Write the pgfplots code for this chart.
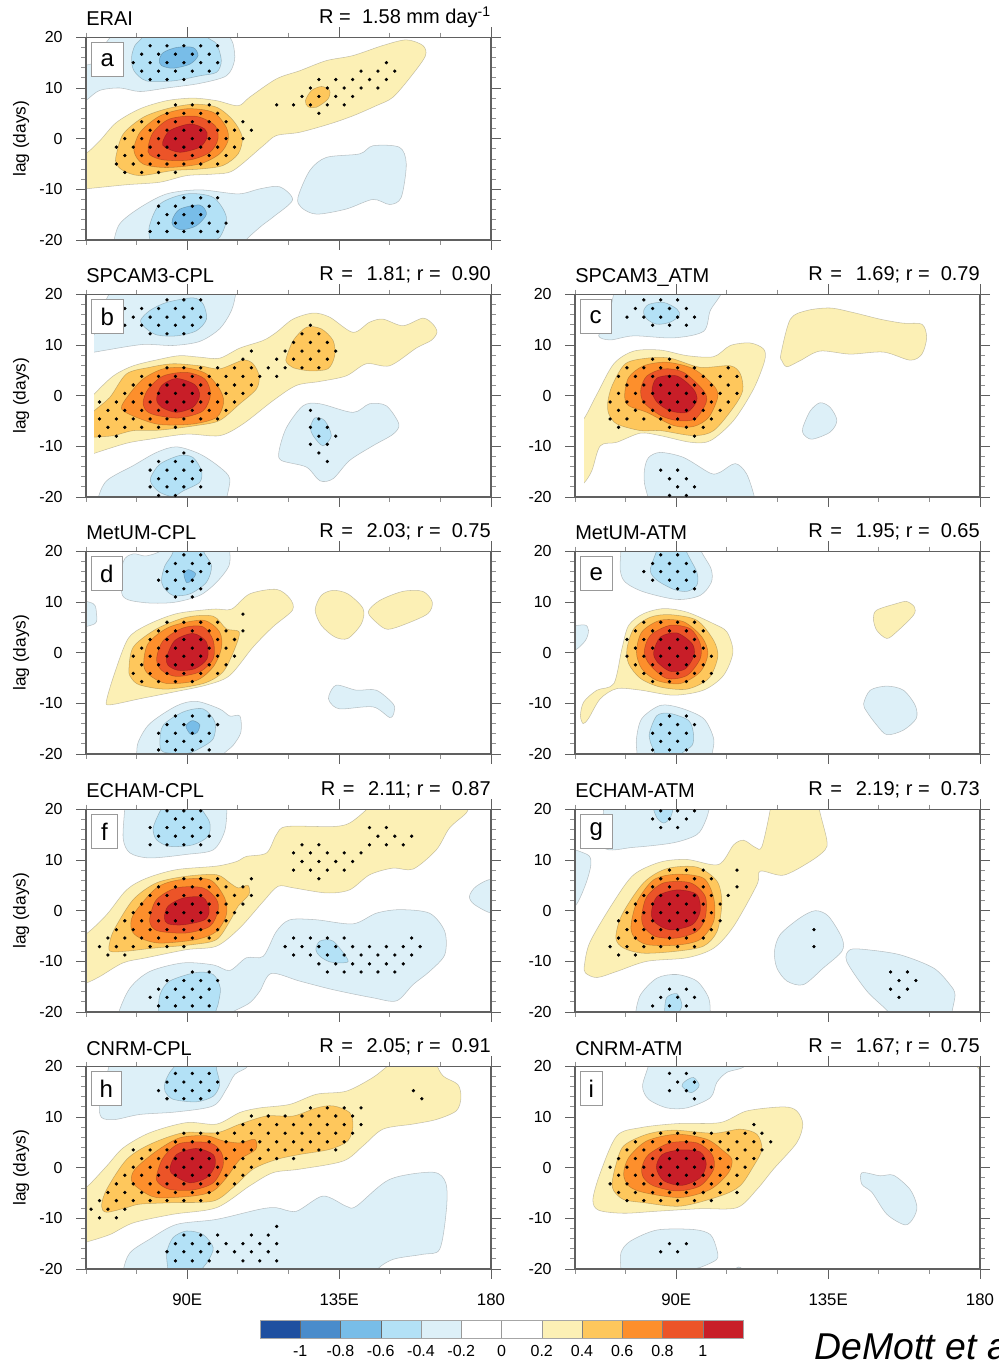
\documentclass[border=0pt]{standalone}
\usepackage{fontspec}
\setmainfont{Liberation Sans}
\usepackage{pgfplots}
\pgfplotsset{compat=1.18}
\definecolor{ba}{HTML}{DDF0F8}
\definecolor{bb}{HTML}{B3E1F6}
\definecolor{bc}{HTML}{78BDE8}
\definecolor{bd}{HTML}{4A8CCB}
\definecolor{be}{HTML}{1F50A0}
\definecolor{ya}{HTML}{FCF0B5}
\definecolor{yb}{HTML}{FEC75C}
\definecolor{yc}{HTML}{FD8F2C}
\definecolor{yd}{HTML}{EC5428}
\definecolor{ye}{HTML}{C81E28}
\definecolor{spine}{HTML}{606060}
\newcommand\blob[2]{\addplot[fill=#1,draw=black,draw opacity=.22,line width=.4pt,smooth cycle] coordinates {#2};}
\newcommand\stip[1]{\addplot[only marks,mark=*,mark size=1.05pt,black] coordinates {#1};}
\newcommand\strip[1]{\addplot[fill=white,draw=none] coordinates {(55,-25)(55,25)(#1,25)(#1,-25)} --cycle;}
\newcommand\titlefont{\fontsize{15}{16}\selectfont}
\newcommand\Req[1]{R\hspace{1.5pt} =\hspace{2pt}\ \ #1}
\newcommand\req[1]{r =\ \ #1}
\pgfplotsset{
 panel/.style={scale only axis,width=303.75pt,height=152pt,xmin=60,xmax=180,ymin=-20,ymax=20,
  xtick={90,135,180},minor xtick={60,75,105,120,150,165},xticklabels={},
  ytick={-20,-10,0,10,20},yticklabels={-20,-10,0,10,20},minor y tick num=4,
  tick align=outside,major tick length=7.5pt,minor tick length=3.5pt,
  every tick/.style={spine,line width=.7pt},every minor tick/.style={spine!70,line width=.6pt},
  axis line style={spine,line width=.8pt},axis on top,
  yticklabel style={font=\fontsize{12}{12}\selectfont,xshift=-6.5pt},
  xticklabel style={font=\fontsize{12.6}{13}\selectfont,yshift=-7.5pt}},
 deco/.style n args={5}{extra description/.code={
   \node[anchor=base west,inner sep=0pt,font=\titlefont] at (axis description cs:0,1) [yshift=8.5pt] {#1};
   \node[anchor=base east,inner sep=0pt,font=\titlefont] at (axis description cs:1,1) [yshift=10.5pt] {#2};
   \node[anchor=north west,draw=gray!80,line width=.6pt,fill=white,inner sep=0pt,minimum width=#4pt,minimum height=25.5pt,font=\fontsize{18}{18}\selectfont] at (axis description cs:0,1) [xshift=3.75pt,yshift=-3.75pt] {#3};
   #5}},
}
\newcommand\lagnode{\node[rotate=90,font=\fontsize{13}{13}\selectfont] at (axis description cs:-0.16,0.5) {lag (days)};}
\begin{document}
\begin{tikzpicture}
\path[use as bounding box] (0,0) rectangle (749.25pt,1022.25pt);

% ---------- a
\begin{axis}[panel,at={(64.5pt,842.25pt)},anchor=south west,deco={ERAI}{R =\ \ 1.58 mm day\textsuperscript{-1}}{a}{24}{\lagnode}]
\blob{ba}{(57,6)(60,7.5)(64,9.5)(70,10)(76,9.3)(84,10)(93.7,10.9)(101.6,12.4)(104,15.4)(103.6,18.7)(102,21)(102,24)(68,24)(68,21)(66,19)(61.4,14.7)(57,14.4)}
\blob{bb}{(73.5,16)(74.2,13.4)(77.9,11.4)(85.8,11.4)(93.7,12.4)(98.7,13.1)(100.1,15.4)(98.7,18.7)(95.7,20.3)(95.7,24)(76.9,24)(76.9,20.3)(74.5,18.4)}
\blob{bc}{(81.7,15.5)(82.9,17)(86.8,18)(91.7,18)(93.2,16.4)(90.8,14.7)(85.8,13.9)(82.4,14.4)}
\blob{ya}{(57,-2.9)(60,-2.9)(64.1,-.4)(69,3.2)(76,5.9)(83.9,7.5)(91.7,8)(98.7,7.5)(105.1,6.5)(108.5,8.2)(116.4,11.8)(123.3,13.4)(131.2,15.4)(139.1,16.4)(148,18.4)(154.9,19.5)(159.8,18.4)(160.6,16.4)(156.9,12.8)(151,8.2)(146,6.5)(139.1,4.5)(132.2,2.9)(123.3,1.25)(116.4,.6)(112.5,-1.4)(103.6,-6.3)(97.7,-7)(89.8,-7.3)(81.9,-8.6)(72,-9.1)(60,-9.9)(57,-10)}
\blob{yb}{(68.9,-3.4)(71,.9)(76.9,4.2)(83.9,5.9)(91.7,6.8)(98.7,6.2)(103.6,3.6)(106.3,.3)(105.1,-3)(100.6,-5.3)(93.7,-6)(85.8,-6.3)(76,-7.3)(71,-6.3)(69,-5)}
\blob{yc}{(74.2,-2.4)(76,1.25)(81.9,4.5)(89.8,5.9)(97.7,5.2)(101.6,2.2)(102.1,-.4)(99.6,-3)(93.7,-5)(83.9,-5.7)(76.9,-5)}
\blob{yd}{(78.4,-1.7)(79.9,1.25)(84.8,3.9)(92.7,4.4)(98.2,2.6)(99.1,-.1)(96.7,-2.7)(90.8,-4.2)(82.9,-4.2)(78.9,-3.2)}
\blob{ye}{(82.7,-.7)(84.8,1.6)(90.8,2.9)(95.2,1.9)(95.9,.3)(93.7,-1.7)(87.8,-2.7)(83.4,-1.7)}
\blob{yb}{(125,7.5)(126.8,9.5)(129.8,10.3)(132.2,9.5)(131.7,7.8)(128.3,6.2)(125.8,6.3)}
\blob{ba}{(68.1,-20.8)(70,-16.8)(76,-13.6)(83.9,-10.9)(93.7,-10.1)(105.1,-10.9)(111.5,-9.9)(117.4,-9.5)(121.2,-12.1)(115.4,-15.5)(111.5,-17.5)(106.5,-20.8)(106.5,-24)(68.1,-24)}
\blob{bb}{(79.1,-20.8)(78.7,-17.5)(81.9,-12.9)(89.8,-10.9)(97.7,-11.6)(101.6,-15.5)(99.6,-19.5)(95.7,-20.8)(95.7,-24)(79.1,-24)}
\blob{bc}{(85.6,-15.9)(87.8,-13.9)(93.7,-13.1)(95.7,-14.9)(92.7,-17.2)(88.3,-18)(85.8,-17.2)}
\blob{ba}{(122.8,-11.6)(126.3,-6.3)(131.2,-3.7)(141.1,-3)(145,-1.4)(152.9,-1.7)(154.9,-5)(153.4,-11.6)(150,-13)(145,-12)(137.1,-13.9)(128.3,-14.9)(123.8,-13.6)}
\stip{(79,18.33)(84,18.33)(89,18.33)(94,18.33)(99,18.33)(76.5,16.67)(81.5,16.67)(86.5,16.67)(91.5,16.67)(96.5,16.67)(74,15)(79,15)(84,15)(89,15)(94,15)(99,15)(149,15)(76.5,13.33)(81.5,13.33)(86.5,13.33)(91.5,13.33)(96.5,13.33)(141.5,13.33)(146.5,13.33)(151.5,13.33)(79,11.67)(84,11.67)(89,11.67)(129,11.67)(134,11.67)(139,11.67)(144,11.67)(149,11.67)(126.5,10)(131.5,10)(136.5,10)(141.5,10)(146.5,10)(124,8.33)(129,8.33)(134,8.33)(139,8.33)(86.5,6.67)(91.5,6.67)(96.5,6.67)(116.5,6.67)(121.5,6.67)(126.5,6.67)(131.5,6.67)(136.5,6.67)(84,5)(89,5)(94,5)(99,5)(129,5)(76.5,3.33)(81.5,3.33)(86.5,3.33)(91.5,3.33)(96.5,3.33)(101.5,3.33)(106.5,3.33)(74,1.67)(79,1.67)(84,1.67)(89,1.67)(94,1.67)(99,1.67)(104,1.67)(109,1.67)(71.5,0)(76.5,0)(81.5,0)(86.5,0)(91.5,0)(96.5,0)(101.5,0)(106.5,0)(69,-1.67)(74,-1.67)(79,-1.67)(84,-1.67)(89,-1.67)(94,-1.67)(99,-1.67)(104,-1.67)(71.5,-3.33)(76.5,-3.33)(81.5,-3.33)(86.5,-3.33)(91.5,-3.33)(96.5,-3.33)(101.5,-3.33)(69,-5)(74,-5)(79,-5)(84,-5)(89,-5)(94,-5)(99,-5)(71.5,-6.67)(76.5,-6.67)(81.5,-6.67)(86.5,-6.67)(89,-11.67)(94,-11.67)(99,-11.67)(81.5,-13.33)(86.5,-13.33)(91.5,-13.33)(96.5,-13.33)(84,-15)(89,-15)(94,-15)(81.5,-16.67)(86.5,-16.67)(91.5,-16.67)(96.5,-16.67)(101.5,-16.67)(79,-18.33)(84,-18.33)(89,-18.33)(94,-18.33)(99,-18.33)}
\end{axis}

% ---------- b
\begin{axis}[panel,at={(64.5pt,649.5pt)},anchor=south west,deco={SPCAM3-CPL}{\Req{1.81}; \req{0.90}}{b}{24}{\lagnode}]
\blob{ba}{(58,8.3)(62.6,8.6)(66.1,9)(76.9,10.1)(85.8,9.9)(93.7,10.7)(99.6,13.2)(103.1,16.8)(104.4,20.4)(104.4,24)(67,24)(67,20.4)(63.1,15.5)(62.4,12)(58,12)}
\blob{bb}{(76.2,14.9)(78.9,16.8)(83.9,18.4)(91.7,19.3)(94.7,18.1)(95.7,15.1)(92.7,12.8)(86.8,11.8)(80.9,12)(77.4,13.5)}
\blob{ya}{(58,-3)(62.4,.3)(68.1,3.9)(74,5.9)(81.9,7.2)(87.8,7.9)(93.7,7.6)(99.6,7.4)(105.6,9.4)(112.5,10.9)(116.4,12.5)(121.3,15.1)(127.3,16.3)(132.2,15.5)(139.1,12.5)(144,14.5)(148,15.1)(153.9,13.8)(159.8,15.3)(162.8,14.1)(164,12.5)(162.3,10.9)(157.9,9.4)(150,5.9)(143.1,6.3)(137.1,3.9)(129.3,2.8)(122.3,2)(115.4,-1)(106.5,-5.6)(99.6,-7.9)(89.8,-7.6)(78.9,-8.6)(72,-9.4)(62.4,-11.4)(58,-12.5)}
\blob{yb}{(58,-6)(62.4,-3)(67.1,-.3)(72,4.3)(78.9,5.6)(85.8,6.3)(93.7,5.9)(99.6,5.3)(106.5,7)(109.5,6.3)(111.3,3.9)(110.5,1.3)(105.6,-1.6)(99.6,-4.9)(92.7,-5.9)(81.9,-6.8)(74,-6.9)(68.1,-7.9)(62.4,-8.2)(58,-8.5)}
\blob{yc}{(70.5,-2.6)(72.5,0)(76.9,3.3)(82.9,5.3)(89.8,5.5)(95.7,4.3)(99.6,1.3)(100.8,-1.3)(98.7,-4.3)(91.7,-5.6)(81.9,-5.7)(75,-4.3)}
\blob{yd}{(76.9,-1.3)(78.4,1.3)(82.9,3.9)(89.8,4.6)(95.2,3.3)(96.9,.3)(94.7,-3)(87.8,-4.4)(80.9,-3.9)(77.9,-3)}
\blob{ye}{(80.9,-.7)(82.4,2)(86.8,3.4)(92.2,2.2)(93.7,0)(91.7,-2.3)(86.8,-3.3)(82.4,-2.3)}
\blob{yb}{(119.4,7.6)(121.4,10.9)(125.3,13.5)(129.7,13.2)(133.2,10.9)(133.7,7.9)(131.7,5.3)(126.3,4.9)(121.4,5.5)(119.4,6.6)}
\blob{ba}{(63.4,-20.7)(66.1,-16.8)(74,-13.8)(80.9,-11.2)(86.8,-10.1)(93.7,-11.5)(99.6,-14.1)(102.6,-16.4)(101.6,-20.7)(101.6,-24)(63.4,-24)}
\blob{bb}{(79.2,-16.1)(81.9,-13.5)(87.8,-11.8)(91.7,-12.2)(94.2,-14.8)(93.7,-17.1)(88.8,-18.8)(85.8,-19.9)(81.9,-19.1)(79.4,-17.4)}
\blob{ba}{(117.2,-10.9)(119.4,-6.3)(124.3,-2)(129.3,-1.6)(139.1,-3.3)(144,-1.6)(149,-2)(152.7,-5.6)(151,-7.6)(145,-9.9)(138.1,-12.8)(133.2,-16.4)(129.3,-16.8)(125.3,-14.1)(117.9,-12.8)}
\blob{bb}{(126.5,-6.3)(127.8,-4.4)(130.7,-4.9)(132.7,-7.9)(130.2,-9.9)(127.3,-7.9)}
\strip{62.4}
\stip{(84,18.9)(89,18.9)(94,18.9)(71.5,17.2)(76.5,17.2)(81.5,17.2)(86.5,17.2)(91.5,17.2)(74,15.5)(79,15.5)(84,15.5)(89,15.5)(94,15.5)(71.5,13.9)(76.5,13.9)(81.5,13.9)(86.5,13.9)(91.5,13.9)(126.5,13.9)(79,12.2)(84,12.2)(89,12.2)(124,12.2)(129,12.2)(121.5,10.5)(126.5,10.5)(131.5,10.5)(109,8.8)(119,8.8)(124,8.8)(129,8.8)(134,8.8)(106.5,7.2)(116.5,7.2)(121.5,7.2)(126.5,7.2)(131.5,7.2)(84,5.5)(89,5.5)(94,5.5)(99,5.5)(104,5.5)(109,5.5)(114,5.5)(119,5.5)(124,5.5)(129,5.5)(76.5,3.8)(81.5,3.8)(86.5,3.8)(91.5,3.8)(96.5,3.8)(101.5,3.8)(106.5,3.8)(111.5,3.8)(116.5,3.8)(74,2.1)(79,2.1)(84,2.1)(89,2.1)(94,2.1)(99,2.1)(104,2.1)(109,2.1)(71.5,.45)(76.5,.45)(81.5,.45)(86.5,.45)(91.5,.45)(96.5,.45)(101.5,.45)(106.5,.45)(64,-1.25)(69,-1.25)(74,-1.25)(79,-1.25)(84,-1.25)(89,-1.25)(94,-1.25)(99,-1.25)(104,-1.25)(66.5,-2.9)(71.5,-2.9)(76.5,-2.9)(81.5,-2.9)(86.5,-2.9)(91.5,-2.9)(96.5,-2.9)(101.5,-2.9)(126.5,-2.9)(64,-4.6)(69,-4.6)(74,-4.6)(79,-4.6)(84,-4.6)(89,-4.6)(94,-4.6)(99,-4.6)(129,-4.6)(66.5,-6.25)(71.5,-6.25)(76.5,-6.25)(81.5,-6.25)(86.5,-6.25)(126.5,-6.25)(131.5,-6.25)(64,-8)(69,-8)(129,-8)(134,-8)(126.5,-9.6)(131.5,-9.6)(89,-11.3)(129,-11.3)(81.5,-13)(86.5,-13)(91.5,-13)(131.5,-13)(79,-14.7)(84,-14.7)(89,-14.7)(94,-14.7)(81.5,-16.4)(86.5,-16.4)(91.5,-16.4)(79,-18)(84,-18)(89,-18)(94,-18)(81.5,-19.7)(86.5,-19.7)}
\end{axis}

% ---------- c
\begin{axis}[panel,at={(431.25pt,649.5pt)},anchor=south west,deco={SPCAM3\_ATM}{\Req{1.69}; \req{0.79}}{c}{23}{}]
\blob{ba}{(67,11.8)(70.5,11)(77.4,11.8)(89.2,11.4)(98.1,12.7)(100.1,16.8)(103.5,20.4)(103.5,24)(71.5,24)(71.5,20.4)(69.5,14.8)}
\blob{bb}{(80.3,16.6)(81.8,18)(86.3,18.4)(90.2,17.1)(90.9,15.8)(88.2,14.5)(84.3,14.1)(81.3,15.1)}
\blob{ya}{(58,-8)(62.6,-4.6)(66.5,.3)(71.5,6.3)(77.4,8.8)(85.3,9)(93.2,7.9)(101.1,7.7)(106,9.9)(111.9,10.4)(115.9,9.2)(116.2,6.9)(112.9,1.3)(107,-4.9)(100.1,-8.9)(94.2,-9.2)(85.3,-7.9)(79.4,-7.4)(72.4,-9.2)(67.5,-9.9)(65,-14.8)(62.6,-17.3)(58,-20)}
\blob{yb}{(69.7,-1.3)(71,2)(74.9,6.3)(81.3,7.4)(88.2,7.4)(97.1,5.6)(106,5.9)(109,4.3)(109.7,1)(107,-2.3)(101.1,-6.9)(95.1,-7.9)(85.3,-6.9)(79.4,-6.9)(72.4,-5.6)(70,-3.6)}
\blob{yc}{(74.7,0)(75.9,3.6)(80.3,5.9)(87.2,6.6)(95.1,5.3)(101.1,2)(102.3,-.3)(99.6,-4.3)(95.1,-6.1)(89.2,-5.9)(81.3,-3.3)(75.9,-2)}
\blob{yd}{(79.5,1.3)(81.3,3.9)(86.3,5.3)(92.2,4.6)(98.1,1)(98.9,-1.3)(95.6,-4.6)(90.2,-4.9)(85.3,-3.9)(80.3,-1.3)}
\blob{ye}{(82.8,1)(84.3,3.5)(90.2,3.9)(95.1,1.3)(96.1,-1)(93.2,-3.3)(88.2,-3)(84.3,-1.3)}
\blob{ya}{(121,8.2)(123.8,15.1)(128.7,16.8)(135.6,17.3)(142.5,16.4)(150.4,15.1)(157.3,14.3)(162.8,14.1)(164.2,11.5)(162.8,8.2)(159.3,7)(151.4,8.6)(141.5,8.2)(132.6,8.8)(126.7,6.9)(122.8,5.7)(121.3,6.9)}
\blob{ba}{(127.5,-6.3)(129.7,-3)(132.6,-1.4)(135.6,-2.3)(137.6,-4.9)(135.6,-7.2)(130.2,-8.6)(127.7,-7.6)}
\blob{ba}{(80.6,-14.5)(81.8,-12.2)(85.3,-11.2)(92.2,-12.2)(100.1,-15.3)(103,-15.1)(107.5,-13.4)(110.9,-15.5)(113.4,-20.7)(113.4,-24)(81.8,-24)(81.8,-20.7)(80.6,-17.4)}
\strip{62.6}
\stip{(80.4,18.9)(85.4,18.9)(90.4,18.9)(77.9,17.2)(83,17.2)(88,17.2)(93,17.2)(75.4,15.5)(80.4,15.5)(85.4,15.5)(90.4,15.5)(95.4,15.5)(83,13.9)(88,13.9)(93,13.9)(83,7.2)(88,7.2)(75.4,5.5)(80.4,5.5)(85.4,5.5)(90.4,5.5)(95.4,5.5)(105.4,5.5)(72.9,3.8)(77.9,3.8)(83,3.8)(88,3.8)(93,3.8)(98,3.8)(103,3.8)(108,3.8)(75.4,2.1)(80.4,2.1)(85.4,2.1)(90.4,2.1)(95.4,2.1)(100.4,2.1)(105.4,2.1)(72.9,.45)(77.9,.45)(83,.45)(88,.45)(93,.45)(98,.45)(103,.45)(108,.45)(70.4,-1.25)(75.4,-1.25)(80.4,-1.25)(85.4,-1.25)(90.4,-1.25)(95.4,-1.25)(100.4,-1.25)(105.4,-1.25)(72.9,-2.9)(77.9,-2.9)(83,-2.9)(88,-2.9)(93,-2.9)(98,-2.9)(103,-2.9)(70.4,-4.6)(75.4,-4.6)(80.4,-4.6)(85.4,-4.6)(90.4,-4.6)(95.4,-4.6)(100.4,-4.6)(72.9,-6.25)(88,-6.25)(93,-6.25)(98,-6.25)(95.4,-8)(85.4,-14.7)(90.4,-14.7)(88,-16.4)(93,-16.4)(90.4,-18)(95.4,-18)(88,-19.7)(93,-19.7)}
\end{axis}

% ---------- d
\begin{axis}[panel,at={(64.5pt,456.75pt)},anchor=south west,deco={MetUM-CPL}{\Req{2.03}; \req{0.75}}{d}{23}{\lagnode}]
\blob{ba}{(56,10.1)(62.1,9.7)(63.1,7.7)(62.6,5.7)(56,5.1)}
\blob{ba}{(70.8,11.3)(71,17.9)(74,19.5)(77.9,19.1)(82.9,20.5)(82.9,24)(102.6,24)(102.6,20.5)(102.4,17.2)(98.7,13.9)(93.7,11.3)(85.8,9.9)(76.9,9.9)}
\blob{bb}{(82.4,14.6)(83.4,17.2)(85.8,19.9)(85.8,24)(94.7,24)(94.7,20.2)(97.2,17.2)(95.7,13.9)(90.8,11.6)(85.8,11.3)(82.9,13)}
\blob{bc}{(89,15.6)(90.3,16.4)(92.5,15.6)(91.3,14.3)(89.8,13.8)}
\blob{ya}{(66.1,-9.4)(68.6,-3.8)(72.5,2.8)(77.9,5.4)(86.8,7.7)(97.7,8.6)(103.1,8.6)(108.5,11.6)(116.4,12.5)(120.4,10.7)(121.2,8.4)(115.4,5.1)(109.5,1.1)(102.6,-4.5)(95.7,-6.4)(85.8,-7.8)(76,-9.1)(67.1,-10.3)}
\blob{yb}{(72.7,-3.5)(74,1.1)(80.9,4.7)(89.8,7)(97.7,7.2)(101.6,4.7)(105.4,4.1)(104.1,.8)(100.6,-3.8)(94.7,-6.1)(83.9,-7.2)(76,-6.4)(73.5,-5.1)}
\blob{yc}{(77.1,-2.5)(78.4,1.8)(84.8,5.1)(94.7,6.4)(99.6,4.1)(100.1,.8)(97.7,-2.8)(92.7,-5.5)(83.9,-6.1)(78.9,-4.5)}
\blob{yd}{(80.9,-1.2)(82.9,2.4)(88.8,4.9)(94.7,5.1)(97.7,2.4)(97.7,-1.2)(93.7,-3.8)(86.8,-4.7)(82.4,-3.5)}
\blob{ye}{(83.9,-.9)(86.3,2.4)(91.7,3.8)(95.7,2.1)(95.9,-1.2)(92.2,-3.2)(87.3,-3.5)(84.3,-2.5)}
\blob{ya}{(127.9,8.4)(129.7,11.3)(133.2,12.3)(137.6,11.6)(142.1,8.7)(141.6,5.7)(137.6,2.8)(133.7,3.1)(129.7,5.4)}
\blob{ya}{(143.6,8)(147,10.3)(153.9,12.1)(159.8,12.1)(162.6,10)(161.3,7.7)(154.9,5.7)(149.5,4.6)(146.5,5.7)}
\blob{ba}{(75,-20.3)(75.5,-17.6)(78.9,-14)(86.8,-10.5)(92.7,-9.6)(99.6,-11.1)(102.6,-12.5)(105.6,-12.5)(105.9,-15.7)(103.6,-18.3)(100.6,-20.3)(100.6,-24)(75,-24)}
\blob{bb}{(81.9,-17.6)(82.9,-14.3)(88.8,-11.7)(94.7,-11.1)(98.2,-13.7)(97.7,-17)(93.7,-18.9)(89.8,-19.9)(82.9,-19.6)}
\blob{bc}{(89.6,-14.5)(91.5,-13.4)(93.7,-14.2)(92.9,-15.8)(91,-16.1)}
\blob{ba}{(132,-8.4)(134.2,-6.4)(140.1,-7.4)(146,-7.4)(151,-10.1)(151.3,-11.7)(150,-12.8)(145,-10.7)(135.2,-11.1)(132.2,-9.7)}
\stip{(89,19.3)(94,19.3)(86.5,17.6)(91.5,17.6)(96.5,17.6)(84,16)(89,16)(94,16)(81.5,14.3)(86.5,14.3)(91.5,14.3)(84,12.6)(89,12.6)(94,12.6)(86.5,11)(91.5,11)(106.5,7.6)(84,6)(89,6)(94,6)(99,6)(81.5,4.3)(86.5,4.3)(91.5,4.3)(96.5,4.3)(101.5,4.3)(106.5,4.3)(79,2.6)(84,2.6)(89,2.6)(94,2.6)(99,2.6)(104,2.6)(76.5,.9)(81.5,.9)(86.5,.9)(91.5,.9)(96.5,.9)(101.5,.9)(74,-.7)(79,-.7)(84,-.7)(89,-.7)(94,-.7)(99,-.7)(104,-.7)(76.5,-2.4)(81.5,-2.4)(86.5,-2.4)(91.5,-2.4)(96.5,-2.4)(101.5,-2.4)(74,-4.1)(79,-4.1)(84,-4.1)(89,-4.1)(94,-4.1)(99,-4.1)(76.5,-5.7)(81.5,-5.7)(86.5,-5.7)(91.5,-5.7)(86.5,-12.5)(91.5,-12.5)(96.5,-12.5)(84,-14.2)(89,-14.2)(99,-14.2)(81.5,-15.9)(86.5,-15.9)(91.5,-15.9)(96.5,-15.9)(84,-17.5)(89,-17.5)(94,-17.5)(81.5,-19.2)(86.5,-19.2)(91.5,-19.2)(96.5,-19.2)}
\end{axis}

% ---------- e
\begin{axis}[panel,at={(431.25pt,456.75pt)},anchor=south west,deco={MetUM-ATM}{\Req{1.95}; \req{0.65}}{e}{24}{}]
\blob{ba}{(73.6,20.5)(73.4,16.3)(74.9,13.9)(80.3,12)(90.2,10.5)(97.1,11.3)(100.4,13.9)(100.3,16.6)(97.1,20.5)(97.1,24)(73.6,24)}
\blob{bb}{(82.3,16.3)(84.3,20.5)(84.3,24)(92.7,24)(92.7,20.5)(96.1,15.9)(96.1,13.3)(93.2,12.1)(89.2,12.5)(84.3,14.3)}
\blob{ba}{(56,4.4)(62.6,5.5)(64,4.4)(63.1,2.4)(60,.5)(56,.5)}
\blob{ya}{(61.6,-12.4)(62.6,-9.7)(66.5,-7.4)(71.5,-6.1)(73.9,.8)(75.9,5.4)(80.3,7.7)(86.3,8.7)(93.2,8)(101.1,5.7)(105,4.1)(106.8,.1)(104,-4.5)(98.1,-7.4)(89.2,-8.4)(79.4,-7.4)(72.4,-7.1)(67.5,-9.1)(64,-13)(62.4,-14)}
\blob{yb}{(75.4,.8)(77.4,4.7)(82.3,7)(88.2,7.5)(96.1,6.4)(101.1,2.4)(102.3,-.9)(99.6,-5.1)(93.2,-7.2)(85.3,-6.8)(79.4,-5.1)(75.9,-2.2)}
\blob{yc}{(78.2,.1)(79.8,4.1)(85.3,6.4)(92.2,6.1)(97.6,3.1)(99.4,-.2)(97.1,-3.8)(91.2,-6.1)(84.3,-5.5)(79.8,-3.2)}
\blob{yd}{(80.5,.1)(82.3,3.4)(88.2,5.4)(94.2,4.7)(97.1,1.8)(97.1,-1.2)(93.2,-4.5)(87.2,-5.1)(82.3,-2.5)}
\blob{ye}{(83.3,.1)(85.3,3.1)(90.2,3.9)(94.7,1.8)(95.3,-.5)(92.7,-3.2)(88.2,-3.7)(84.3,-1.8)}
\blob{ya}{(148.4,6.7)(149.4,8.4)(155.3,9.7)(158.3,10.1)(160.6,9)(160.3,7.4)(155.3,4.1)(152.4,2.8)(149.4,4.4)}
\blob{ba}{(145.5,-10.1)(147.5,-7.4)(152.4,-6.6)(157.3,-7.4)(160.8,-10.4)(161.1,-13)(157.3,-15.3)(152.4,-16.2)(149.4,-14.3)(146.5,-11.7)}
\blob{ba}{(78.2,-17)(79.8,-13)(85.3,-10.4)(91.2,-10.9)(98.1,-13)(101.1,-17)(100.6,-20.3)(100.6,-24)(78.4,-24)(78.4,-20.3)}
\blob{bb}{(82.1,-15.7)(84.3,-12.4)(88.2,-12)(93.7,-13.4)(95.1,-16)(94.7,-18.3)(91.2,-20.3)(91.2,-24)(83.8,-24)(83.8,-20.3)(82.3,-17.6)}
\stip{(85.4,19.3)(90.4,19.3)(83,17.6)(88,17.6)(93,17.6)(80.4,16)(85.4,16)(90.4,16)(95.4,16)(83,14.3)(88,14.3)(93,14.3)(90.4,12.6)(95.4,12.6)(80.4,6)(85.4,6)(90.4,6)(95.4,6)(77.9,4.3)(83,4.3)(88,4.3)(93,4.3)(98,4.3)(75.4,2.6)(80.4,2.6)(85.4,2.6)(90.4,2.6)(95.4,2.6)(77.9,.9)(83,.9)(88,.9)(93,.9)(98,.9)(75.4,-.7)(80.4,-.7)(85.4,-.7)(90.4,-.7)(95.4,-.7)(100.4,-.7)(77.9,-2.4)(83,-2.4)(88,-2.4)(93,-2.4)(98,-2.4)(80.4,-4.1)(85.4,-4.1)(90.4,-4.1)(95.4,-4.1)(100.4,-4.1)(83,-5.7)(88,-5.7)(93,-5.7)(98,-5.7)(88,-12.5)(93,-12.5)(85.4,-14.2)(90.4,-14.2)(95.4,-14.2)(83,-15.9)(88,-15.9)(93,-15.9)(85.4,-17.5)(90.4,-17.5)(83,-19.2)(88,-19.2)(93,-19.2)}
\end{axis}

% ---------- f
\begin{axis}[panel,at={(64.5pt,263.25pt)},anchor=south west,deco={ECHAM-CPL}{\Req{2.11}; \req{0.87}}{f}{19.5}{\lagnode}]
\blob{ba}{(71.5,20.6)(71,14.3)(73,11.4)(78.9,10.4)(89.8,11.1)(97.7,12)(101.1,15.7)(101.8,20.6)(101.8,24)(71.5,24)}
\blob{bb}{(79.9,16.3)(81.9,19.6)(82.9,20.6)(82.9,24)(93.7,24)(93.7,20.6)(94.7,19.6)(96.7,17.3)(96.2,14.7)(91.7,13)(84.8,12.7)(80.9,14)}
\blob{ya}{(57,-4.6)(60,-4.6)(66.1,-.8)(72,4.1)(77.9,6.4)(86.8,8.1)(98.7,8.8)(104.6,9.7)(107.5,10.7)(113.5,11.4)(116.4,15)(119.4,16.6)(133.2,16.6)(138.1,17.3)(143,19.9)(143.6,20.9)(143.6,24)(173.2,24)(173.2,20.9)(172.7,19.3)(167.7,16.3)(163.8,12)(156.9,8.2)(151,8.4)(144.1,7.1)(138.1,4.1)(131.2,3.5)(121.4,4.5)(116.9,4.8)(112.5,1.8)(105.6,-3.4)(98.7,-7)(89.8,-7.7)(77.9,-9.3)(71,-10.3)(64.1,-13)(60,-14.3)(57,-14.5)}
\blob{yb}{(67.1,-6)(68.6,-3.4)(74,2.2)(80.9,5.5)(89.8,6.8)(98.7,7.1)(102.6,5.5)(105.1,4.5)(108,5)(108.3,3.2)(105.1,.9)(102.6,-2.1)(98.7,-5.7)(91.7,-6.7)(79.9,-7.4)(72,-8)(67.1,-8)}
\blob{yc}{(73.5,-3.8)(74,-.8)(80.9,4.5)(87.8,6.1)(96.7,6.1)(101.1,2.5)(101.6,-.8)(98.7,-4.1)(92.7,-5.7)(81.9,-6.4)(76,-5.4)}
\blob{yd}{(78.9,-1.4)(80.9,2.2)(86.8,4.5)(94.7,4.5)(98.7,2.2)(99.1,-.1)(96.7,-3.1)(89.8,-4.4)(81.9,-4.1)(79.4,-3.1)}
\blob{ye}{(83.2,-1.4)(84.3,.9)(88.8,2.5)(94.7,2.6)(96.5,.2)(95.2,-1.8)(88.8,-2.8)(84.3,-2.6)}
\blob{ba}{(69.5,-20.5)(73,-15.3)(78.9,-12)(88.8,-10.3)(97.7,-10.7)(102.6,-11.8)(107.5,-9.3)(112.5,-9)(116.4,-4.1)(120.4,-1.8)(128.3,-1.8)(139.1,-2.6)(146,-.5)(152.9,.2)(161.8,-.5)(166.3,-4.1)(166.3,-8.7)(161.8,-12)(156.9,-14.6)(152,-17.8)(145,-17.2)(133.2,-15.6)(123.3,-13.9)(114.9,-12.4)(111.5,-15.9)(108.5,-18.2)(103.6,-19.9)(101.6,-20.5)(101.6,-24)(69.5,-24)}
\blob{bb}{(81.4,-20.5)(81.9,-16.6)(84.8,-13.9)(92.7,-12.2)(97.7,-12.6)(99.8,-15.3)(99.1,-18.6)(98.2,-20.5)(98.2,-24)(81.4,-24)}
\blob{bb}{(128.1,-7.7)(129.3,-6)(133.2,-6)(137.6,-9.7)(136.2,-10.3)(132.2,-10.1)(129.3,-9)}
\blob{ba}{(180.6,6.1)(175.6,4.8)(173.6,2.8)(175.1,1.2)(180.6,-.5)(184,2)}
\stip{(84,19.7)(89,19.7)(94,19.7)(86.5,18.1)(91.5,18.1)(79,16.4)(84,16.4)(89,16.4)(94,16.4)(144,16.4)(149,16.4)(81.5,14.7)(86.5,14.7)(91.5,14.7)(96.5,14.7)(146.5,14.7)(151.5,14.7)(156.5,14.7)(79,13)(84,13)(89,13)(94,13)(124,13)(129,13)(144,13)(149,13)(154,13)(121.5,11.4)(126.5,11.4)(131.5,11.4)(136.5,11.4)(141.5,11.4)(124,9.7)(129,9.7)(134,9.7)(139,9.7)(121.5,8)(126.5,8)(131.5,8)(136.5,8)(89,6.3)(94,6.3)(99,6.3)(109,6.3)(129,6.3)(81.5,4.7)(86.5,4.7)(91.5,4.7)(96.5,4.7)(101.5,4.7)(106.5,4.7)(79,3)(84,3)(89,3)(94,3)(99,3)(104,3)(109,3)(76.5,1.3)(81.5,1.3)(86.5,1.3)(91.5,1.3)(96.5,1.3)(101.5,1.3)(106.5,1.3)(74,-.4)(79,-.4)(84,-.4)(89,-.4)(94,-.4)(99,-.4)(104,-.4)(71.5,-2)(76.5,-2)(81.5,-2)(86.5,-2)(91.5,-2)(96.5,-2)(101.5,-2)(69,-3.75)(74,-3.75)(79,-3.75)(84,-3.75)(89,-3.75)(94,-3.75)(99,-3.75)(66.5,-5.4)(71.5,-5.4)(76.5,-5.4)(81.5,-5.4)(86.5,-5.4)(91.5,-5.4)(96.5,-5.4)(121.5,-5.4)(126.5,-5.4)(131.5,-5.4)(136.5,-5.4)(156.5,-5.4)(64,-7.1)(69,-7.1)(74,-7.1)(79,-7.1)(84,-7.1)(89,-7.1)(119,-7.1)(124,-7.1)(129,-7.1)(134,-7.1)(139,-7.1)(144,-7.1)(149,-7.1)(154,-7.1)(159,-7.1)(66.5,-8.75)(71.5,-8.75)(121.5,-8.75)(126.5,-8.75)(131.5,-8.75)(136.5,-8.75)(141.5,-8.75)(146.5,-8.75)(151.5,-8.75)(156.5,-8.75)(129,-10.5)(134,-10.5)(139,-10.5)(144,-10.5)(149,-10.5)(154,-10.5)(91.5,-12.1)(96.5,-12.1)(131.5,-12.1)(136.5,-12.1)(141.5,-12.1)(146.5,-12.1)(151.5,-12.1)(84,-13.8)(89,-13.8)(94,-13.8)(99,-13.8)(81.5,-15.5)(86.5,-15.5)(91.5,-15.5)(96.5,-15.5)(79,-17.1)(84,-17.1)(89,-17.1)(94,-17.1)(81.5,-18.8)(86.5,-18.8)(91.5,-18.8)(96.5,-18.8)}
\end{axis}

% ---------- g
\begin{axis}[panel,at={(431.25pt,263.25pt)},anchor=south west,deco={ECHAM-ATM}{\Req{2.19}; \req{0.73}}{g}{24}{}]
\blob{ba}{(68.5,20.6)(68.5,12.5)(77.4,12.5)(89.2,13.4)(96.1,15)(98.6,17.6)(99.9,20.6)(99.9,24)(68.5,24)}
\blob{bb}{(83.1,20.6)(84.3,18.3)(86.3,17.3)(88.2,18.3)(89.2,20.6)(89.2,24)(83.1,24)}
\blob{ba}{(56,11.7)(63.6,11.1)(64.7,9.1)(63.1,5.1)(60,.9)(56,1.2)}
\blob{ya}{(62.8,-10.7)(64.5,-6.1)(71.5,1.8)(77.4,7.1)(85.3,9.6)(93.2,10.1)(102.5,9.1)(107,13)(110,13.9)(113.4,12.5)(115.4,12.7)(118,20.6)(118,24)(132.2,24)(132.2,20.6)(134.6,14)(134.1,12)(129.7,9.7)(121.8,7)(114.9,7.8)(113.9,5.1)(107,-3.1)(101.1,-7.4)(93.2,-9.3)(81.3,-10)(72.4,-12)(66.5,-13.2)(63.1,-12.3)}
\blob{yb}{(72.1,-5.4)(73.9,-.8)(80.3,5.5)(87.2,8.3)(96.1,8.6)(102.1,5.8)(103.5,1.5)(102.1,-4.1)(98.1,-7)(90.2,-8)(80.3,-8.4)(74.4,-7.4)}
\blob{yc}{(76.6,-2.8)(78.4,1.8)(83.3,6.1)(90.2,7.2)(98.1,6.4)(101.1,2.5)(101.1,-2.1)(97.1,-5.7)(90.2,-6.8)(81.3,-6.7)(77.4,-5.1)}
\blob{yd}{(79.8,-.8)(81.3,2.8)(86.3,5.5)(94.2,5.5)(98.6,2.8)(98.6,-1.4)(96.1,-4.1)(90.2,-5.4)(83.8,-5.1)(80.3,-3.1)}
\blob{ye}{(82.6,-.5)(84.3,2.8)(90.2,4.1)(96.1,3.2)(97.1,-.1)(94.7,-2.8)(88.2,-3.8)(83.8,-2.4)}
\blob{ba}{(119.1,-8)(120.8,-4.7)(126.7,-1.4)(131.2,0)(135.1,-1.1)(139.1,-5.4)(139.1,-8)(133.6,-11.3)(127.7,-14.6)(122.8,-13.9)(119.8,-11.3)}
\blob{ba}{(140.5,-10)(141.5,-7.7)(146.5,-7.7)(156.3,-8.7)(166.2,-11.3)(171.1,-14.6)(172.6,-16.6)(171.6,-20.5)(171.6,-24)(153.4,-24)(153.4,-20.5)(146.5,-15.9)}
\blob{ba}{(77.9,-20.5)(79.4,-16.6)(84.3,-13.3)(90.2,-12.6)(96.1,-13.9)(99.6,-17.2)(100.1,-20.5)(100.1,-24)(77.9,-24)}
\blob{bb}{(86.5,-20.5)(87.1,-17.2)(90.2,-16.4)(91.7,-18.6)(90.7,-20.5)(90.7,-24)(86.5,-24)}
\stip{(85.4,19.7)(90.4,19.7)(95.4,19.7)(83,18.1)(88,18.1)(93,18.1)(85.4,16.4)(90.4,16.4)(88,8)(93,8)(98,8)(108,8)(85.4,6.3)(90.4,6.3)(95.4,6.3)(100.4,6.3)(83,4.7)(88,4.7)(93,4.7)(98,4.7)(108,4.7)(80.4,3)(85.4,3)(90.4,3)(95.4,3)(100.4,3)(105.4,3)(77.9,1.3)(83,1.3)(88,1.3)(93,1.3)(98,1.3)(103,1.3)(75.4,-.4)(80.4,-.4)(85.4,-.4)(90.4,-.4)(95.4,-.4)(100.4,-.4)(72.9,-2)(77.9,-2)(83,-2)(88,-2)(93,-2)(98,-2)(103,-2)(75.4,-3.75)(80.4,-3.75)(85.4,-3.75)(90.4,-3.75)(95.4,-3.75)(100.4,-3.75)(130.8,-3.75)(72.9,-5.4)(77.9,-5.4)(83,-5.4)(88,-5.4)(93,-5.4)(98,-5.4)(70.4,-7.1)(75.4,-7.1)(80.4,-7.1)(85.4,-7.1)(90.4,-7.1)(95.4,-7.1)(130.8,-7.1)(72.9,-8.75)(77.9,-8.75)(153.5,-12.1)(158.5,-12.1)(156,-13.8)(161,-13.8)(88,-15.5)(93,-15.5)(153.5,-15.5)(158.5,-15.5)(85.4,-17.1)(90.4,-17.1)(95.4,-17.1)(156,-17.1)(83,-18.8)(88,-18.8)(93,-18.8)}
\end{axis}

% ---------- h
\begin{axis}[panel,at={(64.5pt,70.5pt)},anchor=south west,deco={CNRM-CPL}{\Req{2.05}; \req{0.91}\hspace{-1.5pt}}{h}{22.5}{\lagnode},xticklabels={90E,135E,180}]
\blob{ba}{(67,20.7)(64.1,12.8)(64.6,9.9)(68.6,9.5)(76,10.5)(86.8,11)(97.7,12.2)(101.6,15.5)(104.1,18.4)(108,20.1)(108,24)(67,24)}
\blob{bb}{(83.4,16.8)(84.8,18.8)(86.8,20.7)(86.8,24)(98.7,24)(98.7,20.7)(98.7,19.4)(99.6,16.4)(97.7,14.1)(92.7,13)(85.8,13.5)(83.4,15.1)}
\blob{ya}{(57,-3.9)(60,-3.9)(66.1,.3)(71,3.9)(78.9,6.9)(89.8,8.9)(98.7,8.6)(105.6,10.9)(111.5,11.8)(120.4,12.5)(128.3,14.5)(137.1,15.1)(145,17.8)(149.5,20.1)(151.9,20.7)(151.9,24)(163.8,24)(163.8,20.7)(165.8,18.1)(170.2,16.4)(171.1,13.8)(169.7,11.2)(163.8,9.5)(156.9,8.6)(148,7.6)(142.1,4.3)(136.2,1.3)(123.3,-.3)(115.4,-1)(108.5,-3.6)(98.7,-7.9)(85.8,-9.2)(74,-10.9)(67.1,-13.2)(60,-14.7)(57,-15)}
\blob{yb}{(64.6,-7.6)(66.1,-4.3)(72,1.6)(78.9,4.6)(88.8,6.9)(98.7,6.9)(105.6,8.6)(113.5,10.2)(121.4,10.2)(128.3,11.8)(133.2,12.2)(138.1,10.9)(139.1,8.2)(137.6,5.3)(132.2,3.6)(123.3,2.6)(116.4,1.6)(109.5,-.3)(103.6,-3.9)(97.7,-6.6)(85.8,-6.9)(76,-7.2)(72,-7.9)(66.1,-8.8)}
\blob{yc}{(73.5,-2.6)(74.5,-.3)(80.9,3.3)(87.8,5.9)(95.7,6.3)(100.6,5.3)(105.6,4.9)(110,5.6)(110.3,3.6)(105.6,1.6)(101.6,-2)(97.7,-4.6)(91.7,-5.6)(80.9,-5.9)(76,-4.3)}
\blob{yd}{(80.9,-1.6)(82.9,2)(87.8,4.8)(96.7,4.9)(100.1,3)(100.6,.3)(97.7,-3)(91.7,-4.4)(84.8,-4.3)(81.4,-3)}
\blob{ye}{(84.8,-.3)(86.8,2.6)(92.7,3.8)(97.7,2.6)(98.2,.3)(95.7,-2)(90.8,-3)(86.3,-1.6)}
\blob{ba}{(71,-20.4)(73,-16.8)(78.9,-14.1)(86.8,-11.2)(98.7,-10.2)(111.5,-8.2)(116.4,-7.9)(122.3,-8.6)(130.2,-5.6)(137.1,-7.6)(140.1,-7.6)(150,-2.3)(162.8,-.9)(166.6,-3)(166.8,-8.2)(164.8,-16.1)(159.8,-17.1)(151,-18.1)(146,-20.4)(146,-24)(71,-24)}
\blob{bb}{(84.3,-20.4)(83.9,-16.8)(85.8,-13.8)(89.8,-12.5)(94.7,-13.2)(97.7,-15.8)(96.2,-18.4)(94.2,-20.4)(94.2,-24)(84.3,-24)}
\stip{(86.5,18.6)(91.5,18.6)(96.5,18.6)(84,16.9)(89,16.9)(94,16.9)(99,16.9)(81.5,15.2)(86.5,15.2)(91.5,15.2)(96.5,15.2)(157,15.2)(84,13.6)(89,13.6)(94,13.6)(159.5,13.6)(126.5,11.8)(131.5,11.8)(136.5,11.8)(141.5,11.8)(109,10.2)(114,10.2)(119,10.2)(124,10.2)(129,10.2)(134,10.2)(139,10.2)(106.5,8.5)(111.5,8.5)(116.5,8.5)(121.5,8.5)(126.5,8.5)(131.5,8.5)(136.5,8.5)(141.5,8.5)(89,6.8)(94,6.8)(99,6.8)(104,6.8)(109,6.8)(114,6.8)(119,6.8)(124,6.8)(129,6.8)(134,6.8)(139,6.8)(86.5,5.1)(91.5,5.1)(96.5,5.1)(101.5,5.1)(106.5,5.1)(111.5,5.1)(116.5,5.1)(121.5,5.1)(126.5,5.1)(131.5,5.1)(136.5,5.1)(74,3.5)(79,3.5)(84,3.5)(89,3.5)(94,3.5)(99,3.5)(104,3.5)(109,3.5)(114,3.5)(119,3.5)(124,3.5)(129,3.5)(134,3.5)(76.5,1.8)(81.5,1.8)(86.5,1.8)(91.5,1.8)(96.5,1.8)(101.5,1.8)(106.5,1.8)(111.5,1.8)(116.5,1.8)(121.5,1.8)(74,.1)(79,.1)(84,.1)(89,.1)(94,.1)(99,.1)(104,.1)(109,.1)(71.5,-1.5)(76.5,-1.5)(81.5,-1.5)(86.5,-1.5)(91.5,-1.5)(96.5,-1.5)(101.5,-1.5)(106.5,-1.5)(69,-3.2)(74,-3.2)(79,-3.2)(84,-3.2)(89,-3.2)(94,-3.2)(99,-3.2)(104,-3.2)(66.5,-4.9)(71.5,-4.9)(76.5,-4.9)(81.5,-4.9)(86.5,-4.9)(91.5,-4.9)(96.5,-4.9)(64,-6.5)(69,-6.5)(74,-6.5)(79,-6.5)(84,-6.5)(89,-6.5)(94,-6.5)(61.5,-8.2)(66.5,-8.2)(71.5,-8.2)(64,-9.9)(69,-9.9)(116.5,-11.6)(89,-13.3)(94,-13.3)(99,-13.3)(109,-13.3)(114,-13.3)(86.5,-15)(91.5,-15)(96.5,-15)(101.5,-15)(106.5,-15)(111.5,-15)(116.5,-15)(84,-16.6)(89,-16.6)(94,-16.6)(99,-16.6)(104,-16.6)(109,-16.6)(114,-16.6)(86.5,-18.4)(91.5,-18.4)(96.5,-18.4)(106.5,-18.4)(111.5,-18.4)(116.5,-18.4)}
\end{axis}

% ---------- i
\begin{axis}[panel,at={(431.25pt,70.5pt)},anchor=south west,deco={CNRM-ATM}{\Req{1.67}; \req{0.75}}{i}{16.5}{},xticklabels={90E,135E,180}]
\blob{ba}{(81.8,20.4)(80,16.1)(81.8,13.5)(87.2,11.8)(93.2,11.8)(100.1,13.8)(102,16.8)(105,18.8)(110.4,20.1)(110.4,24)(81.8,24)}
\blob{bb}{(91.7,16.1)(92.7,17.1)(95.1,17.8)(96.8,16.4)(96.1,15.5)(94.2,14.8)}
\blob{ya}{(65.3,-6.3)(67.5,-1)(72.4,6.3)(79.4,7.9)(90.2,8.7)(103,8.9)(110.9,11.2)(121.8,12)(125.7,11.2)(127.5,8.6)(125.7,4.9)(118.8,-.3)(113.9,-4.3)(108,-7.9)(97.1,-8.1)(84.3,-8.6)(74.4,-9)(67,-8.4)}
\blob{yb}{(71,-3)(72,.3)(74.4,4.3)(81.3,6.6)(89.2,7.4)(101.1,6.8)(108.9,7.6)(113.9,6.6)(115.4,3.6)(112.9,.3)(108.9,-3.6)(103,-5.6)(91.2,-7.6)(80.3,-6.9)(74.4,-6.3)(71.5,-4.6)}
\blob{yc}{(74.4,-1.3)(75.9,2)(81.3,5.3)(90.2,6.6)(99.1,5.6)(104,3.3)(106.5,1.6)(105.5,-1)(100.1,-4.3)(91.2,-5.9)(80.3,-4.9)(75.9,-3.6)}
\blob{yd}{(79.8,0)(81.8,2.6)(88.2,4.9)(96.1,4.9)(100.6,2.6)(101.1,-.3)(97.1,-3.6)(90.2,-4.6)(83.3,-3.6)(80.3,-2)}
\blob{ye}{(84.1,0)(85.8,2.6)(91.2,3.5)(97.1,3.1)(98.9,.7)(97.1,-2)(91.7,-3.5)(86.3,-2.6)}
\blob{ba}{(145,-1)(150.4,-1.6)(154.4,-1.5)(159.3,-4.3)(161.3,-7.6)(160.3,-9.9)(157.8,-11.3)(152.4,-9.2)(148,-4.9)(145,-3.3)}
\blob{ba}{(73.6,-20.4)(73.6,-16.8)(76.4,-14.5)(84.3,-12.3)(95.1,-12.2)(100.1,-13.2)(102,-16.1)(102,-18.1)(97.1,-19.7)(93.2,-20.4)(93.2,-24)(73.6,-24)}
\blob{ba}{(107,-20.5)(108.5,-19.6)(110.4,-20.5)}
\blob{ya}{(178,21)(182,21)(182,19.3)(180,19.4)}
\stip{(88,18.6)(93,18.6)(90.4,16.9)(95.4,16.9)(88,15.2)(93,15.2)(95.4,13.6)(113,8.5)(85.4,6.8)(90.4,6.8)(95.4,6.8)(100.4,6.8)(105.4,6.8)(110.4,6.8)(115.4,6.8)(77.9,5.1)(83,5.1)(88,5.1)(93,5.1)(98,5.1)(103,5.1)(108,5.1)(113,5.1)(118,5.1)(75.4,3.5)(80.4,3.5)(85.4,3.5)(90.4,3.5)(95.4,3.5)(100.4,3.5)(105.4,3.5)(110.4,3.5)(115.4,3.5)(72.9,1.8)(77.9,1.8)(83,1.8)(88,1.8)(93,1.8)(98,1.8)(103,1.8)(108,1.8)(113,1.8)(70.4,.1)(75.4,.1)(80.4,.1)(85.4,.1)(90.4,.1)(95.4,.1)(100.4,.1)(105.4,.1)(110.4,.1)(72.9,-1.5)(77.9,-1.5)(83,-1.5)(88,-1.5)(93,-1.5)(98,-1.5)(103,-1.5)(108,-1.5)(70.4,-3.2)(75.4,-3.2)(80.4,-3.2)(85.4,-3.2)(90.4,-3.2)(95.4,-3.2)(100.4,-3.2)(105.4,-3.2)(72.9,-4.9)(77.9,-4.9)(83,-4.9)(88,-4.9)(93,-4.9)(98,-4.9)(103,-4.9)(108,-4.9)(75.4,-6.5)(80.4,-6.5)(85.4,-6.5)(90.4,-6.5)(95.4,-6.5)(100.4,-6.5)(88,-15)(93,-15)(85.4,-16.6)(90.4,-16.6)}
\end{axis}

% ---------- colour bar
\begin{axis}[scale only axis,at={(195pt,18.5pt)},anchor=south west,width=362.25pt,height=13.5pt,
 xmin=0,xmax=12,ymin=0,ymax=1,xtick={1,2,3,4,5,6,7,8,9,10,11},
 xticklabels={-1,-0.8,-0.6,-0.4,-0.2,0,0.2,0.4,0.6,0.8,1},ytick=\empty,
 major tick length=0pt,axis line style={gray!70,line width=.5pt},axis on top,
 ticklabel style={font=\fontsize{12}{12}\selectfont},xticklabel style={yshift=-1.5pt}]
\addplot[fill=be,draw=black!60,line width=.3pt] coordinates {(0,0)(0,1)(1,1)(1,0)} --cycle;
\addplot[fill=bd,draw=black!60,line width=.3pt] coordinates {(1,0)(1,1)(2,1)(2,0)} --cycle;
\addplot[fill=bc,draw=black!60,line width=.3pt] coordinates {(2,0)(2,1)(3,1)(3,0)} --cycle;
\addplot[fill=bb,draw=black!60,line width=.3pt] coordinates {(3,0)(3,1)(4,1)(4,0)} --cycle;
\addplot[fill=ba,draw=black!40,line width=.3pt] coordinates {(4,0)(4,1)(5,1)(5,0)} --cycle;
\addplot[fill=white,draw=black!40,line width=.3pt] coordinates {(5,0)(5,1)(6,1)(6,0)} --cycle;
\addplot[fill=white,draw=black!40,line width=.3pt] coordinates {(6,0)(6,1)(7,1)(7,0)} --cycle;
\addplot[fill=ya,draw=black!40,line width=.3pt] coordinates {(7,0)(7,1)(8,1)(8,0)} --cycle;
\addplot[fill=yb,draw=black!50,line width=.3pt] coordinates {(8,0)(8,1)(9,1)(9,0)} --cycle;
\addplot[fill=yc,draw=black!50,line width=.3pt] coordinates {(9,0)(9,1)(10,1)(10,0)} --cycle;
\addplot[fill=yd,draw=black!50,line width=.3pt] coordinates {(10,0)(10,1)(11,1)(11,0)} --cycle;
\addplot[fill=ye,draw=black!50,line width=.3pt] coordinates {(11,0)(11,1)(12,1)(12,0)} --cycle;
\end{axis}

\node[anchor=base west,inner sep=0pt,font=\fontsize{28}{28}\selectfont\itshape] at (611pt,2.5pt) {DeMott et al.};
\end{tikzpicture}
\end{document}
